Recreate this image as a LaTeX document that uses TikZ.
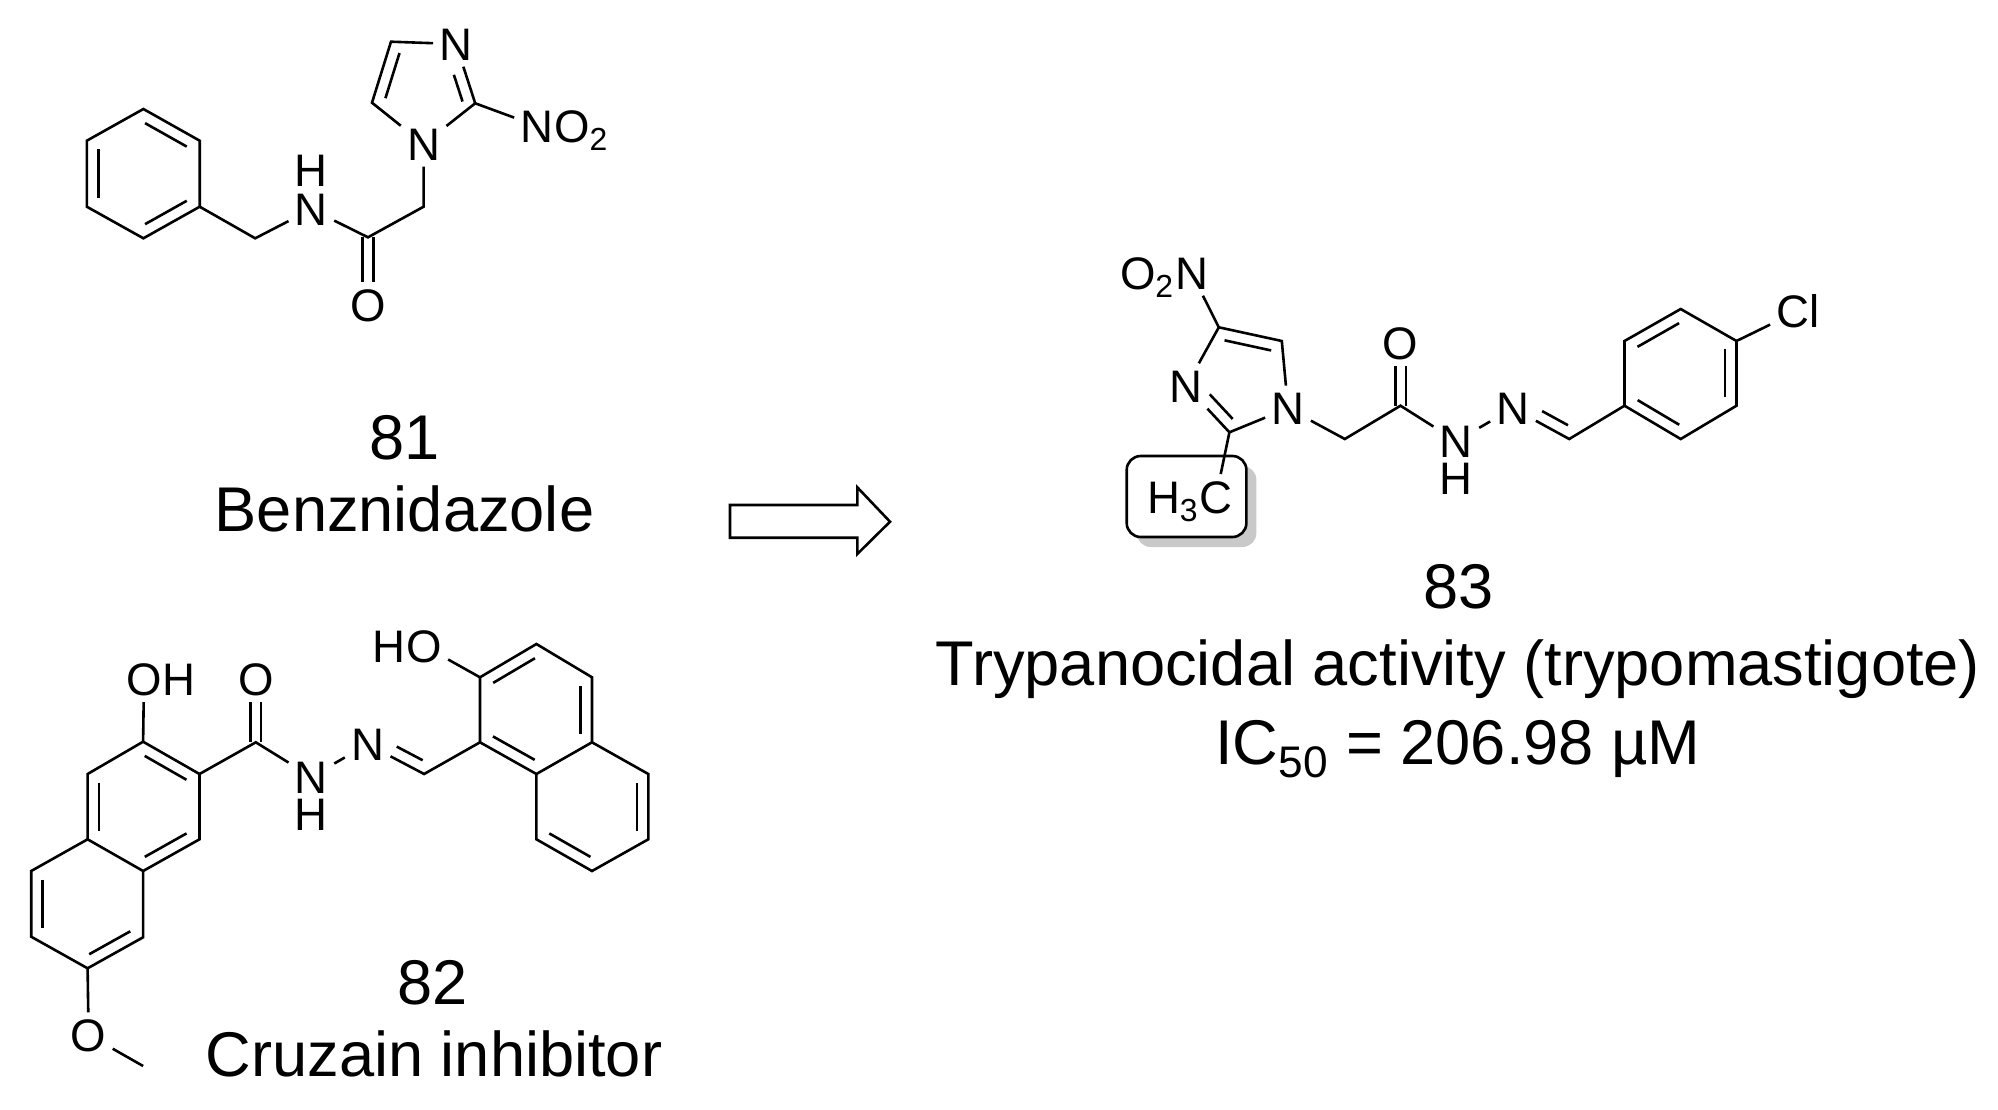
\documentclass[tikz,border=0pt]{standalone}
\usepackage{fontspec}
\setmainfont{Liberation Sans}
\usetikzlibrary{calc,positioning}

\tikzset{
    bond/.style={line width=1.3pt},
    dblbond/.style={line width=1.3pt,double,double distance=4pt},
    atom/.style={font=\fontsize{22.8}{24}\selectfont,inner sep=3pt,text height=16.3pt,text depth=0pt},
    atomtail/.style={atom,inner sep=0pt},
    caption/.style={font=\fontsize{31.6}{34}\selectfont,inner sep=0pt,text height=22.6pt,text depth=0pt},
}
\newcommand{\inbond}[4]{\draw[bond] ($(#1)!#3!(#2)!5.75pt!90:(#2)$) -- ($(#2)!#4!(#1)!-5.75pt!90:(#1)$);}
\newcommand{\rb}[2]{\inbond{#1}{#2}{.13}{.13}}

\begin{document}
\begin{tikzpicture}[x=0.5pt,y=-0.5pt]
    \useasboundingbox (0,0) rectangle (1998,1109);

    \coordinate (P0) at (143.4,109);
    \coordinate (P1) at (86.8,140.7);
    \coordinate (P2) at (86.8,206.7);
    \coordinate (P3) at (143.4,238.3);
    \coordinate (P4) at (199.7,206.7);
    \coordinate (P5) at (199.7,140.7);
    \coordinate (Pm) at (255.2,238.3);
    \coordinate (Pc) at (368,237.3);
    \coordinate (Pa) at (423.6,206.7);
    \coordinate (I2) at (475.2,103.3);
    \coordinate (I4) at (391,41.7);
    \coordinate (I5) at (372,102.7);
    \node[atom] (Pn) at (311.4,209.3) {N};
    \node[atom] (Ph) at (311.4,170) {H};
    \node[atom] (Po) at (368,305) {O};
    \node[atom] (I1) at (423.6,144) {N};
    \node[atom] (I3) at (456,44) {N};
    \node[atom] (Nx) at (537,126) {N};
    \node[atomtail,right=-3pt of Nx] (Ox) {O\textsubscript{2}};
    \draw[dblbond] (Pc) -- (Po);
    \draw[bond] (P0) -- (P1) -- (P2) -- (P3) -- (P4) -- (P5) -- cycle;
    \draw[bond] (P4) -- (Pm) -- (Pn);
    \draw[bond] (Pn) -- (Pc) -- (Pa) -- (I1);
    \draw[bond] (I1) -- (I2) -- (I3);
    \draw[bond] (I3) -- (I4) -- (I5) -- (I1);
    \draw[bond] (I2) -- (Nx);
    \rb{P5}{P0}
    \rb{P1}{P2}
    \rb{P3}{P4}
    \rb{I4}{I5}
    \inbond{I2}{I3}{.09}{.46}
    \node[caption] (n81) at (404.5,437) {81};
    \node[caption] (t81) at (404.5,509) {Benznidazole};

    \coordinate (A0) at (143.1,741.7);
    \coordinate (A1) at (199.5,774);
    \coordinate (A2) at (199.5,839.3);
    \coordinate (A3) at (143.1,871);
    \coordinate (A4) at (87.6,839.3);
    \coordinate (A5) at (87.6,774);
    \coordinate (A6) at (143.1,937.3);
    \coordinate (A7) at (87.6,968.3);
    \coordinate (A8) at (31.2,936.7);
    \coordinate (A9) at (31.2,871);
    \coordinate (Ae) at (143.1,1066);
    \coordinate (Ac) at (255.8,742.3);
    \coordinate (Cm) at (424.1,774);
    \coordinate (B0) at (480,742.3);
    \coordinate (B1) at (480,677.3);
    \coordinate (B2) at (536.4,644);
    \coordinate (B3) at (592,677.3);
    \coordinate (B4) at (592,742.3);
    \coordinate (B5) at (536.4,774);
    \coordinate (B6) at (536.4,839.3);
    \coordinate (B7) at (592,871);
    \coordinate (B8) at (648.3,839.3);
    \coordinate (B9) at (648.3,774);
    \node[atom] (Ao) at (144,679.3) {O};
    \node[atomtail,right=-3pt of Ao] (Ah) {H};
    \node[atom] (Am) at (88.6,1035) {O};
    \node[atom] (Ad) at (255.8,679.3) {O};
    \node[atom] (Hn) at (311.4,776.7) {N};
    \node[atom] (Hh) at (311.4,814) {H};
    \node[atom] (Nb) at (367.7,744.3) {N};
    \node[atom] (Bo) at (424,646) {O};
    \node[atomtail,left=-3pt of Bo] (Bh) {H};
    \draw[dblbond] (Ac) -- (Ad);
    \draw[bond] (A0) -- (A1) -- (A2) -- (A3) -- (A4) -- (A5) -- cycle;
    \draw[bond] (A3) -- (A6) -- (A7) -- (A8) -- (A9) -- (A4);
    \draw[bond] (A0) -- (Ao);
    \draw[bond] (A7) -- (Am) -- (Ae);
    \draw[bond] (A1) -- (Ac) -- (Hn) -- (Nb) -- (Cm) -- (B0);
    \draw[bond] (B0) -- (B1) -- (B2) -- (B3) -- (B4) -- (B5) -- cycle;
    \draw[bond] (B5) -- (B6) -- (B7) -- (B8) -- (B9) -- (B4);
    \draw[bond] (B1) -- (Bo);
    \rb{A1}{A0}
    \rb{A5}{A4}
    \rb{A3}{A2}
    \rb{A9}{A8}
    \rb{A7}{A6}
    \rb{B2}{B1}
    \rb{B0}{B5}
    \rb{B4}{B3}
    \rb{B6}{B7}
    \rb{B8}{B9}
    \inbond{Nb}{Cm}{.42}{.12}
    \node[caption] (n82) at (432.5,981.5) {82};
    \node[caption] (t82) at (434,1054) {Cruzain inhibitor};

    \coordinate (W0) at (730,505);
    \coordinate (W1) at (857.3,505);
    \coordinate (W2) at (857.3,487.3);
    \coordinate (W3) at (890,521.7);
    \coordinate (W4) at (857.3,554);
    \coordinate (W5) at (857.3,537.7);
    \coordinate (W6) at (730,537.7);
    \draw[bond,miter limit=4] (W0) -- (W1) -- (W2) -- (W3) -- (W4) -- (W5) -- (W6) -- cycle;

    \fill[black!21,rounded corners=7pt] (1136.7,466) rectangle (1256.4,547);
    \draw[bond,fill=white,rounded corners=7pt] (1126.7,456) rectangle (1246.4,537);
    \coordinate (J2) at (1229.4,432.3);
    \coordinate (J4) at (1218.8,327.3);
    \coordinate (J5) at (1281.8,341);
    \coordinate (Ja) at (1344.8,439);
    \coordinate (Jc) at (1400.5,405.7);
    \coordinate (Jm) at (1569.2,439);
    \coordinate (R0) at (1624.5,405.7);
    \coordinate (R1) at (1624.5,341);
    \coordinate (R2) at (1680.7,309);
    \coordinate (R3) at (1736.5,341);
    \coordinate (R4) at (1736.5,405.7);
    \coordinate (R5) at (1680.7,439);
    \node[atom] (J1) at (1288,408.3) {N};
    \node[atom] (J3) at (1186.3,386) {N};
    \node[atom] (Jx) at (1191.5,273) {N};
    \node[atomtail,left=-3pt of Jx] (Jo) {O\textsubscript{2}};
    \node[atom] (Jk) at (1216,496.7) {C};
    \node[atomtail,left=-3pt of Jk] (Jh) {H\textsubscript{3}};
    \node[atom] (Jd) at (1400.5,343.3) {O};
    \node[atom] (Kn) at (1456.3,441) {N};
    \node[atom] (Kh) at (1456.3,478.3) {H};
    \node[atom] (Kb) at (1513,408.3) {N};
    \node[atom] (Cl) at (1798,311) {Cl};
    \draw[dblbond] (Jc) -- (Jd);
    \draw[bond] (J1) -- (J2) -- (J3);
    \draw[bond] (J3) -- (J4) -- (J5) -- (J1);
    \draw[bond] (J4) -- (Jx);
    \draw[bond] (J2) -- (Jk);
    \draw[bond] (J1) -- (Ja) -- (Jc) -- (Kn) -- (Kb) -- (Jm) -- (R0);
    \draw[bond] (R0) -- (R1) -- (R2) -- (R3) -- (R4) -- (R5) -- cycle;
    \draw[bond] (R3) -- (Cl);
    \rb{J5}{J4}
    \inbond{J3}{J2}{.35}{.12}
    \inbond{Kb}{Jm}{.42}{.12}
    \rb{R2}{R1}
    \rb{R0}{R5}
    \rb{R4}{R3}
    \node[caption] (n83) at (1458.5,586) {83};
    \node[caption] (t83) at (1458,662.6) {Trypanocidal activity (trypomastigote)};
    \node[caption] (v83) at (1458,741.6) {IC\textsubscript{50} = 206.98 µM};
\end{tikzpicture}
\end{document}
